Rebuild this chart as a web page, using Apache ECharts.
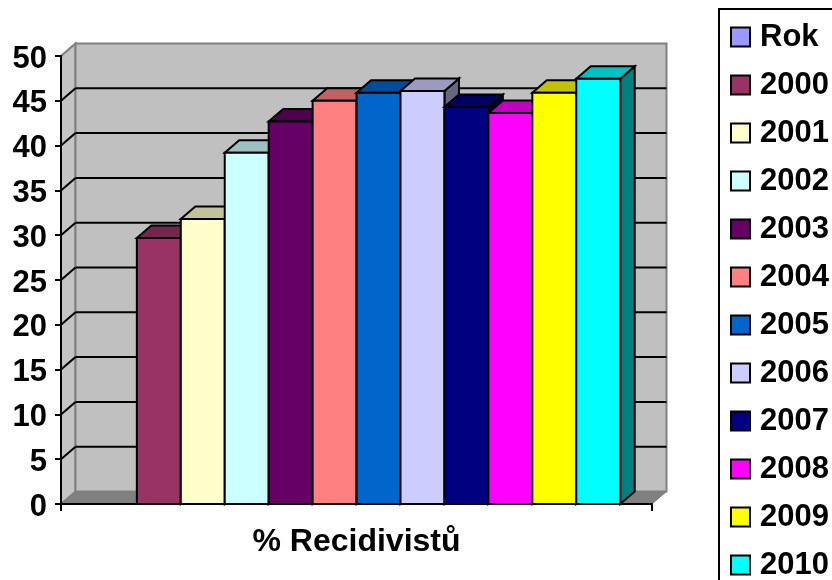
<!DOCTYPE html>
<html><head><meta charset="utf-8">
<style>html,body{margin:0;padding:0;background:#fff}#c{width:832px;height:580px}</style>
<script src="https://cdn.jsdelivr.net/npm/echarts@6/dist/echarts.min.js"></script>
</head><body><div id="c"></div>
<script>
const categories = ['% Recidivistů'];
const seriesNames = ['Rok','2000','2001','2002','2003','2004','2005','2006','2007','2008','2009','2010'];
const seriesValues = [null,29.7,31.8,39.2,42.7,45.0,45.9,46.1,44.3,43.65,45.9,47.45];
const seriesColors = ['#9999FF','#993366','#FFFFCC','#CCFFFF','#660066','#FF8080','#0066CC','#CCCCFF','#000080','#FF00FF','#FFFF00','#00FFFF'];
const yTicks = [0,5,10,15,20,25,30,35,40,45,50];

const DX = 14.5, DY = 12.5, GAP = 0.054, BAR = 0.07435, FONT = 'Liberation Sans, Arial, sans-serif';

function shade(hex, f){
  const n = parseInt(hex.slice(1),16);
  const c = [n>>16&255,n>>8&255,n&255].map(v=>Math.round(v*f));
  return 'rgb('+c.join(',')+')';
}
function poly(points, fill, stroke, lw){
  return {type:'polygon',shape:{points},style:{fill,stroke,lineWidth:lw,lineJoin:'miter'},silent:true};
}
function line(x1,y1,x2,y2,stroke,lw){
  return {type:'line',shape:{x1,y1,x2,y2},style:{stroke,lineWidth:lw},silent:true};
}
function renderWalls(params, api){
  const band = api.size([1,0])[0];
  const b = api.coord([0,0]), t = api.coord([0,50]);
  const L = b[0]-band/2, R = b[0]+band/2, Y0 = b[1], Y1 = t[1];
  const kids = [
    poly([[L,Y0],[L+DX,Y0-DY],[L+DX,Y1-DY],[L,Y1]],'#c4c4c4','#808080',2),
    poly([[L+DX,Y0-DY],[R+DX,Y0-DY],[R+DX,Y1-DY],[L+DX,Y1-DY]],'#c0c0c0','#808080',2),
    poly([[L,Y0],[R,Y0],[R+DX,Y0-DY],[L+DX,Y0-DY]],'#808080','#808080',1)
  ];
  yTicks.forEach(v=>{
    if(v===0||v===50) return;
    const y = api.coord([0,v])[1];
    kids.push(line(L,y,L+DX,y-DY,'#000',2));
    kids.push(line(L+DX,y-DY,R+DX,y-DY,'#000',2));
  });
  return {type:'group',children:kids};
}
function renderBar(idx){
  return function(params, api){
    const v = api.value(1);
    if(v==null||isNaN(v)) return null;
    const band = api.size([1,0])[0];
    const b = api.coord([0,0]), t = api.coord([0,v]);
    const L = b[0]-band/2+band*(GAP+BAR*idx), R = L+band*BAR;
    const c = seriesColors[idx];
    return {type:'group',children:[
      poly([[R,b[1]],[R+DX,b[1]-DY],[R+DX,t[1]-DY],[R,t[1]]],shade(c,0.5),'#000',2),
      poly([[L,t[1]],[R,t[1]],[R+DX,t[1]-DY],[L+DX,t[1]-DY]],shade(c,0.76),'#000',2),
      poly([[L,b[1]],[R,b[1]],[R,t[1]],[L,t[1]]],c,'#000',2)
    ]};
  };
}
const series = [{type:'custom',name:'walls',silent:true,z:1,clip:false,renderItem:renderWalls,
  encode:{x:0,y:1},data:[[0,0]],animation:false}];
seriesNames.forEach((n,i)=>series.push({
  type:'custom',name:n,z:2+i,clip:false,renderItem:renderBar(i),encode:{x:0,y:1},
  itemStyle:{color:seriesColors[i]},data:[[0,seriesValues[i]]],animation:false,silent:true
}));
const chart = echarts.init(document.getElementById('c'),null,{renderer:'canvas'});
chart.setOption({
  animation:false,
  backgroundColor:'#fff',
  grid:{left:61,right:180,top:56,bottom:76,containLabel:false},
  xAxis:{type:'category',data:categories,z:30,
    axisLine:{lineStyle:{color:'#000',width:2}},
    axisTick:{show:true,length:7,lineStyle:{color:'#000',width:2}},
    axisLabel:{color:'#000',fontFamily:FONT,fontWeight:'bold',fontSize:32,margin:22}},
  yAxis:{type:'value',min:0,max:50,interval:5,z:30,
    splitLine:{show:false},
    axisLine:{show:true,lineStyle:{color:'#000',width:2}},
    axisTick:{show:true,length:6,lineStyle:{color:'#000',width:2}},
    axisLabel:{color:'#000',fontFamily:FONT,fontWeight:'bold',fontSize:31,margin:14,verticalAlign:'top',lineHeight:6}},
  legend:{show:true,orient:'vertical',left:730,top:20,width:300,height:800,padding:0,data:seriesNames,
    icon:'rect',itemWidth:19,itemHeight:19,itemGap:14,selectedMode:false,
    itemStyle:{borderColor:'#000',borderWidth:2},
    textStyle:{color:'#000',fontFamily:FONT,fontWeight:'bold',fontSize:31,padding:[0,0,0,5],lineHeight:34}},
  graphic:[{type:'rect',left:718,top:8,shape:{x:0,y:0,width:200,height:640},
    style:{fill:'#fff',stroke:'#000',lineWidth:2},z:-1,silent:true}],
  series
});
</script></body></html>
